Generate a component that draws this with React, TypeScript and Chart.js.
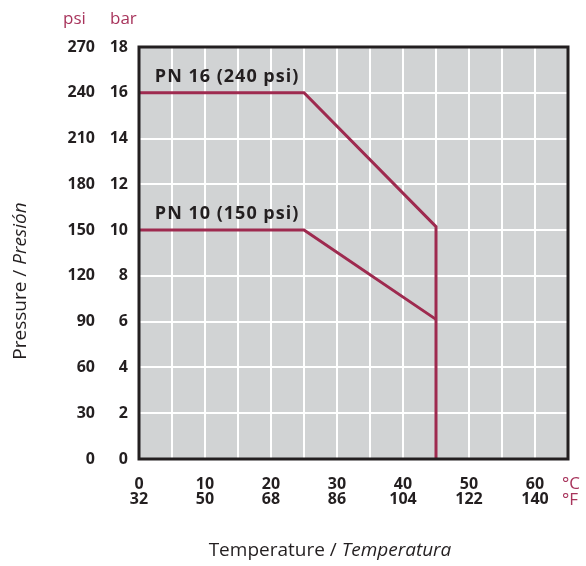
import React, { useEffect, useRef } from 'react';
import { Chart, registerables } from 'chart.js';

Chart.register(...registerables);

// ---- Data ----
const tempC = [0, 10, 20, 30, 40, 50, 60];
const tempF = [32, 50, 68, 86, 104, 122, 140];
const psiTicks = [0, 30, 60, 90, 120, 150, 180, 210, 240, 270];
const barTicks = [0, 2, 4, 6, 8, 10, 12, 14, 16, 18];
const pn16Temps = [0, 25, 45, 45];
const pn16Bar = [16, 16, 10.15, 0];
const pn10Temps = [0, 25, 45];
const pn10Bar = [10, 10, 6.1];
const seriesLabels = ['PN 16 (240 psi)', 'PN 10 (150 psi)'];
const seriesLabelAnchors = [
  { x: 2.4, y: 16 },
  { x: 2.4, y: 10 },
];

const CRIMSON = '#9e2a4f';
const TEXT_CRIMSON = '#a8345c';
const DARK = '#231f20';
const PLOT_BG = '#d1d3d4';
const FONT = '"Open Sans", "Noto Sans", sans-serif';

const decorPlugin = {
  id: 'decor',
  beforeDraw(chart: any) {
    const { ctx, chartArea: a } = chart;
    ctx.save();
    ctx.fillStyle = PLOT_BG;
    ctx.fillRect(a.left, a.top, a.right - a.left, a.bottom - a.top);
    ctx.restore();
  },
  afterDraw(chart: any) {
    const { ctx, chartArea: a, scales } = chart;
    const xs = scales.x;
    const ys = scales.yBar;
    const yp = scales.yPsi;
    ctx.save();
    // border
    ctx.strokeStyle = DARK;
    ctx.lineWidth = 3;
    ctx.strokeRect(a.left, a.top, a.right - a.left, a.bottom - a.top);

    // series labels
    ctx.fillStyle = DARK;
    ctx.font = `bold 18px ${FONT}`;
    ctx.textAlign = 'left';
    ctx.textBaseline = 'alphabetic';
    (ctx as any).letterSpacing = '1px';
    seriesLabels.forEach((lbl, i) => {
      const an = seriesLabelAnchors[i];
      ctx.fillText(lbl, xs.getPixelForValue(an.x), ys.getPixelForValue(an.y) - 11);
    });
    (ctx as any).letterSpacing = '0px';

    // unit labels
    ctx.fillStyle = TEXT_CRIMSON;
    ctx.font = `17px ${FONT}`;
    ctx.textBaseline = 'middle';
    ctx.textAlign = 'left';
    ctx.fillText('psi', yp.left + 63, 19);
    ctx.fillText('bar', ys.left + 10, 19);
    ctx.fillText('°C', 562, 484);
    ctx.fillText('°F', 562, 500);

    // axis titles
    const TS = 19;
    ctx.fillStyle = DARK;
    ctx.textAlign = 'left';
    const t1 = 'Temperature / ';
    const t2 = 'Temperatura';
    ctx.font = `${TS}px ${FONT}`;
    const w1 = ctx.measureText(t1).width;
    ctx.font = `italic ${TS}px ${FONT}`;
    const w2 = ctx.measureText(t2).width;
    const sx = 330 - (w1 + w2) / 2;
    ctx.font = `${TS}px ${FONT}`;
    ctx.fillText(t1, sx, 551);
    ctx.font = `italic ${TS}px ${FONT}`;
    ctx.fillText(t2, sx + w1, 551);

    ctx.translate(21, 281);
    ctx.rotate(-Math.PI / 2);
    const p1 = 'Pressure / ';
    const p2 = 'Presión';
    ctx.font = `${TS}px ${FONT}`;
    const pw1 = ctx.measureText(p1).width;
    ctx.font = `italic ${TS}px ${FONT}`;
    const pw2 = ctx.measureText(p2).width;
    const px = -(pw1 + pw2) / 2;
    ctx.font = `${TS}px ${FONT}`;
    ctx.fillText(p1, px, 0);
    ctx.font = `italic ${TS}px ${FONT}`;
    ctx.fillText(p2, px + pw1, 0);
    ctx.restore();
  },
};

export default function App() {
  const ref = useRef<HTMLCanvasElement | null>(null);
  useEffect(() => {
    document.body.style.margin = '0';
    if (!ref.current) return;
    const tickFont = { family: FONT, size: 16, weight: 'bold' as const, lineHeight: 0.95 };
    const chart = new Chart(ref.current, {
      type: 'line',
      data: {
        datasets: [
          {
            label: seriesLabels[0],
            data: pn16Temps.map((t, i) => ({ x: t, y: pn16Bar[i] })),
            borderColor: CRIMSON,
            borderWidth: 3,
            pointRadius: 0,
            yAxisID: 'yBar',
            tension: 0,
          },
          {
            label: seriesLabels[1],
            data: pn10Temps.map((t, i) => ({ x: t, y: pn10Bar[i] })),
            borderColor: CRIMSON,
            borderWidth: 3,
            pointRadius: 0,
            yAxisID: 'yBar',
            tension: 0,
          },
        ],
      },
      options: {
        animation: false,
        responsive: false,
        maintainAspectRatio: false,
        layout: { padding: { top: 47, right: 14, bottom: 0, left: 0 } },
        plugins: { legend: { display: false }, tooltip: { enabled: false } },
        scales: {
          x: {
            type: 'linear',
            min: 0,
            max: 65,
            grid: { color: '#ffffff', lineWidth: 2, drawTicks: false },
            border: { display: false },
            ticks: {
              stepSize: 5,
              autoSkip: false,
              maxRotation: 0,
              padding: 18,
              color: DARK,
              font: tickFont,
              callback: (v: any) => {
                const i = tempC.indexOf(Number(v));
                return i >= 0 ? [String(tempC[i]), String(tempF[i])] : '';
              },
            },
            afterFit: (s: any) => {
              s.height = 107;
            },
          },
          yPsi: {
            type: 'linear',
            position: 'left',
            weight: 1,
            min: 0,
            max: 270,
            grid: { display: false, drawTicks: false },
            border: { display: false },
            ticks: {
              stepSize: 30,
              padding: 5,
              color: DARK,
              font: tickFont,
              callback: (v: any) => (psiTicks.includes(Number(v)) ? String(v) : ''),
            },
            afterFit: (s: any) => {
              s.width = 100;
            },
          },
          yBar: {
            type: 'linear',
            position: 'left',
            weight: 0,
            min: 0,
            max: 18,
            grid: { color: '#ffffff', lineWidth: 2, drawTicks: false },
            border: { display: false },
            ticks: {
              stepSize: 2,
              padding: 11,
              color: DARK,
              font: tickFont,
              callback: (v: any) => (barTicks.includes(Number(v)) ? String(v) : ''),
            },
            afterFit: (s: any) => {
              s.width = 39;
            },
          },
        },
      },
      plugins: [decorPlugin],
    });
    return () => chart.destroy();
  }, []);
  return (
    <div style={{ width: 586, height: 566 }}>
      <canvas ref={ref} width={586} height={566} style={{ display: 'block', width: 586, height: 566 }} />
    </div>
  );
}
